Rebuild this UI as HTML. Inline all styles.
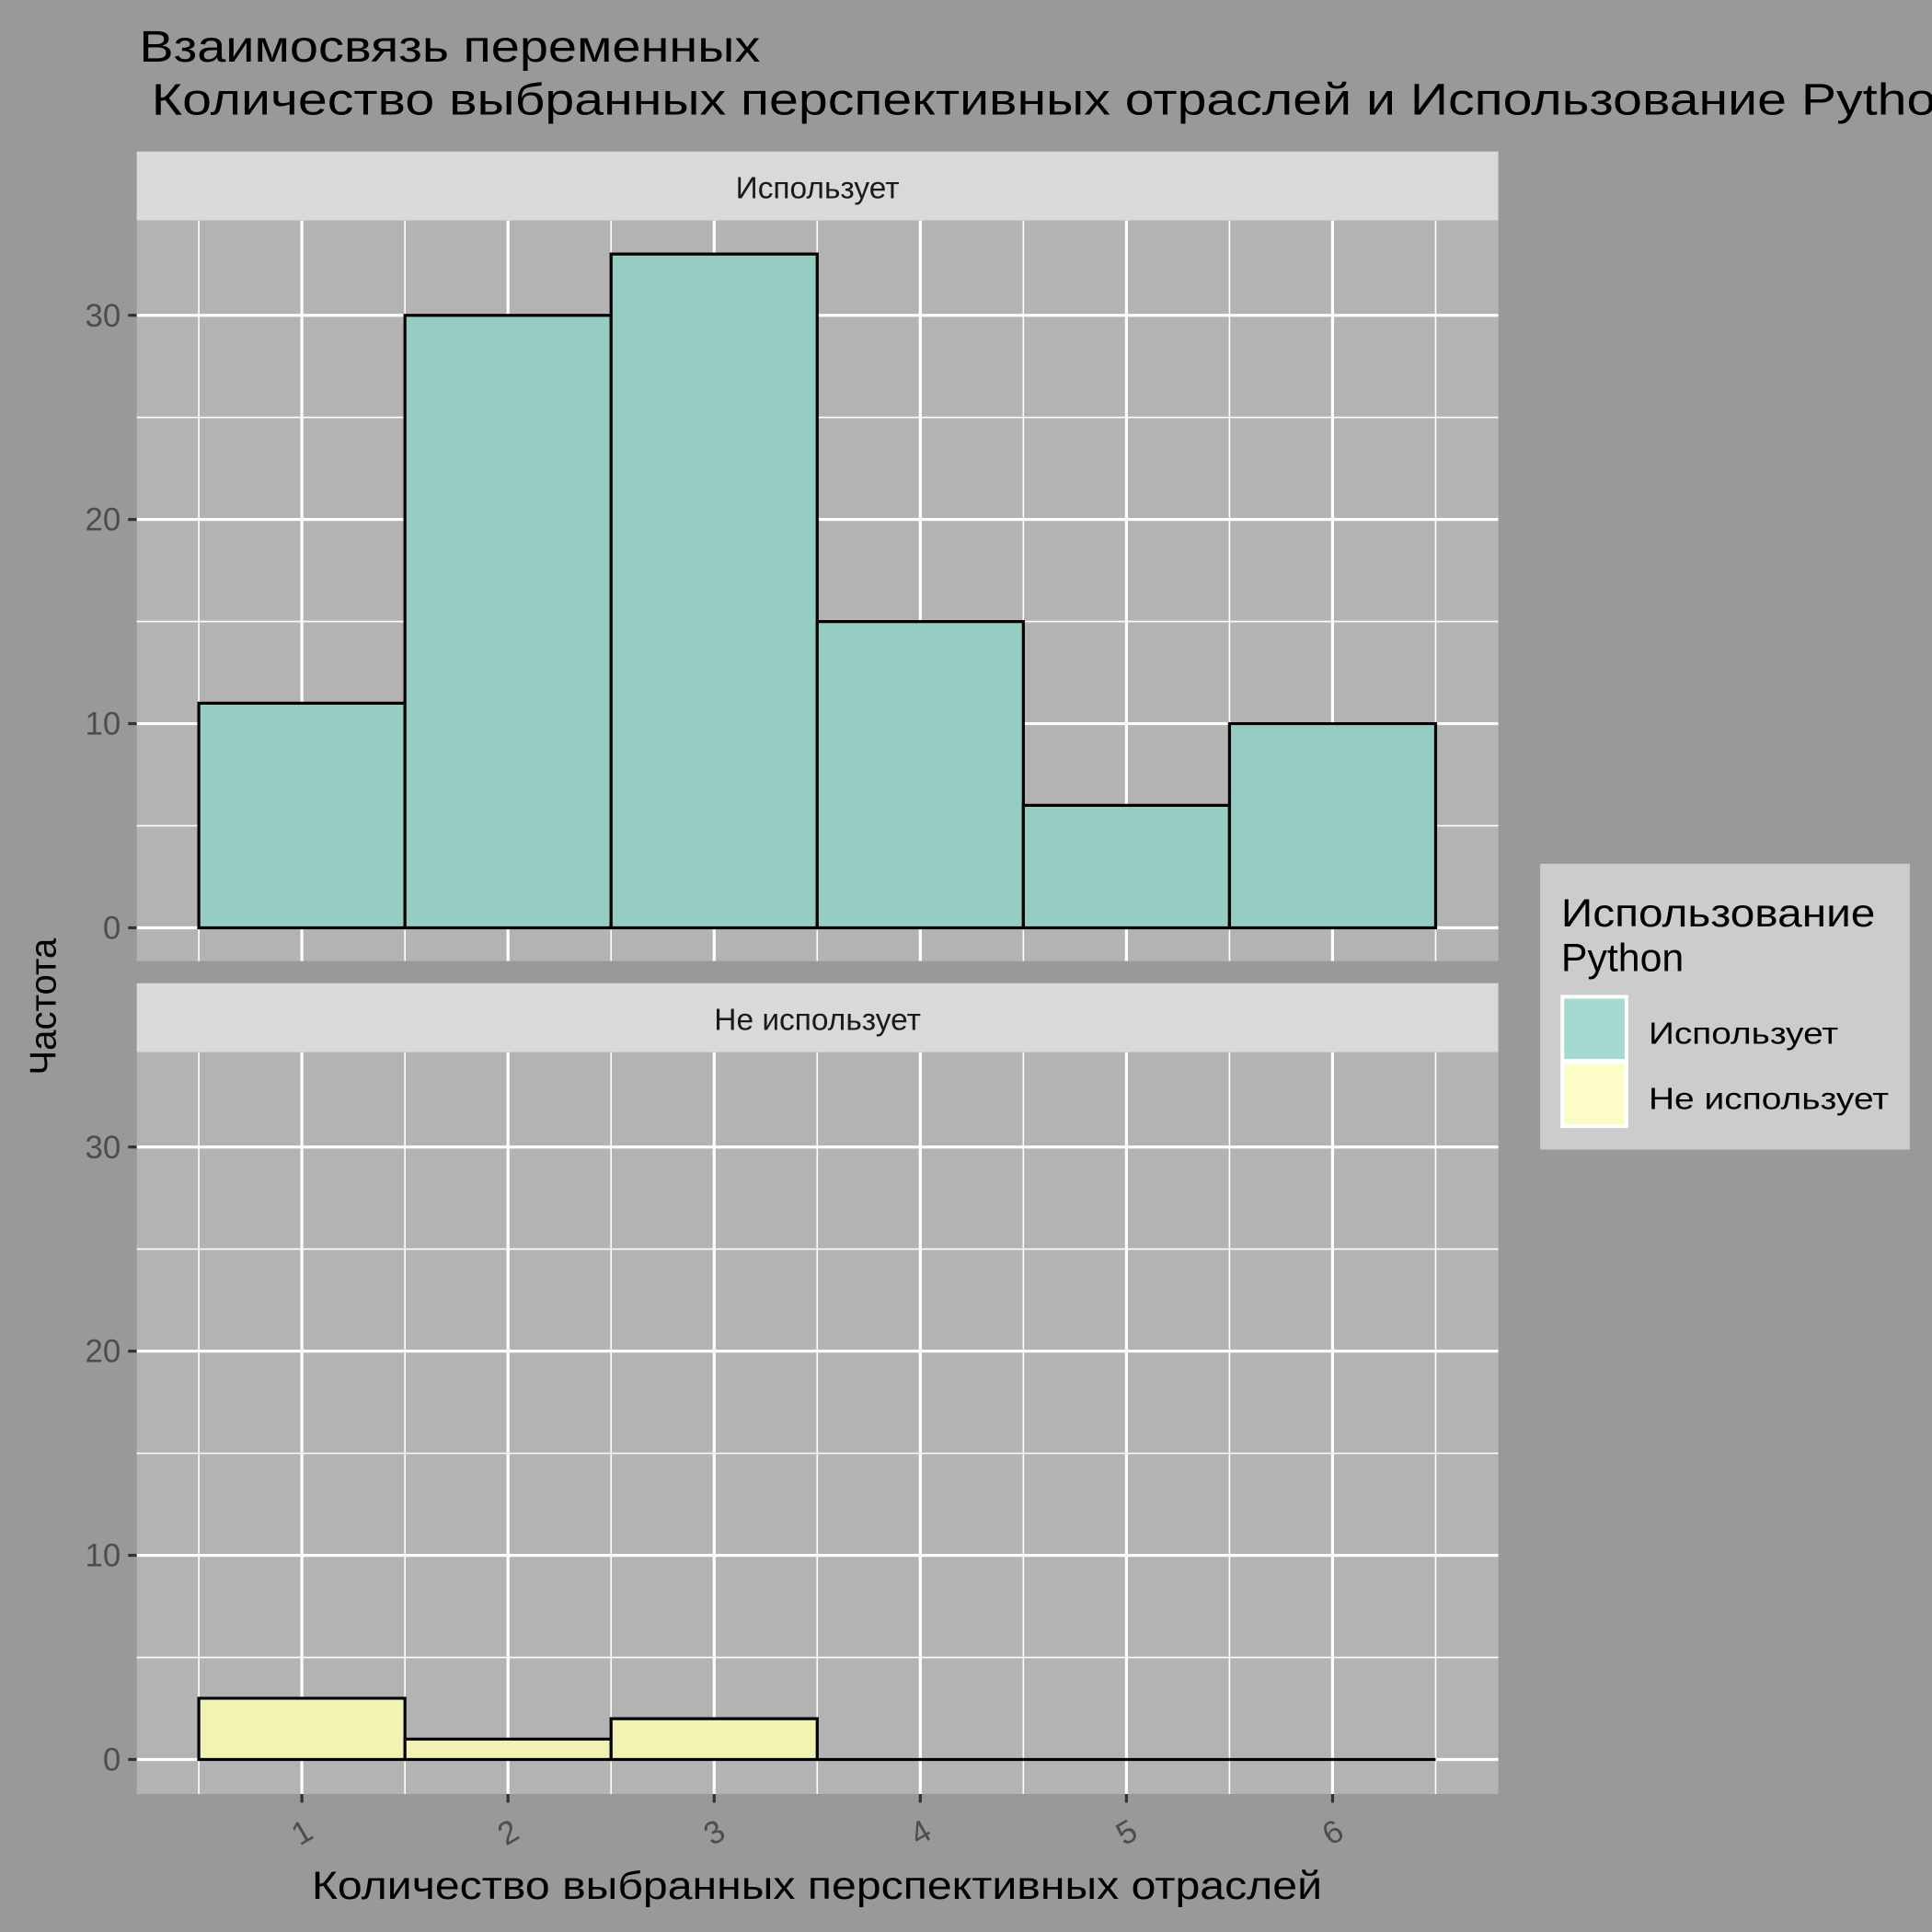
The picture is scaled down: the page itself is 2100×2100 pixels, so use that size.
<!DOCTYPE html>
<html><head><meta charset="utf-8"><style>
html,body{margin:0;padding:0;background:#999;}
svg{display:block;font-family:"Liberation Sans","DejaVu Sans",sans-serif;}
</style></head><body>
<svg id="chart" width="2100" height="2100" viewBox="0 0 1568 1568" xmlns="http://www.w3.org/2000/svg">
<rect x="0" y="0" width="1568" height="1568" fill="#999999"/>
<text x="113" y="50" font-size="36" fill="#000" textLength="504" lengthAdjust="spacingAndGlyphs">Взаимосвязь переменных</text>
<text x="123" y="93" font-size="36" fill="#000" textLength="1472" lengthAdjust="spacingAndGlyphs">Количество выбранных перспективных отраслей и Использование Python</text>
<g id="panels"></g>
<text transform="translate(45,817) rotate(-90)" text-anchor="middle" font-size="30" fill="#000">Частота</text>
<text x="663" y="1541" text-anchor="middle" font-size="32" fill="#000" textLength="820" lengthAdjust="spacingAndGlyphs">Количество выбранных перспективных отраслей</text>
<g>
<rect x="1250" y="701" width="300" height="232" fill="#cccccc"/>
<text x="1267" y="752" font-size="32" fill="#000" textLength="255" lengthAdjust="spacingAndGlyphs">Использование</text>
<text x="1267" y="788" font-size="32" fill="#000">Python</text>
<rect x="1268" y="809" width="52" height="52" fill="#a3d9cf" stroke="#fff" stroke-width="3"/>
<rect x="1268" y="862" width="52" height="52" fill="#fcfcc6" stroke="#fff" stroke-width="3"/>
<text x="1338" y="847" font-size="25" fill="#000" textLength="154" lengthAdjust="spacingAndGlyphs">Использует</text>
<text x="1338" y="900" font-size="25" fill="#000" textLength="195" lengthAdjust="spacingAndGlyphs">Не использует</text>
</g>
</svg>
<script>
const categories = [1, 2, 3, 4, 5, 6];
const usesValues = [11, 30, 33, 15, 6, 10];
const notUsesValues = [3, 1, 2, 0, 0, 0];
const yTicks = [0, 10, 20, 30];
const xTickLabels = ["1", "2", "3", "4", "5", "6"];
const panelNames = ["Использует", "Не использует"];

const NS = "http://www.w3.org/2000/svg";
const g = document.getElementById("panels");
const X0 = 111, X1 = 1216;
const xScale = v => 245 + (v - 1) * 167.3;
function mk(tag, attrs, parent) {
  const e = document.createElementNS(NS, tag);
  for (const k in attrs) e.setAttribute(k, attrs[k]);
  parent.appendChild(e);
  return e;
}
const panels = [
  {stripTop: 123, top: 179, bottom: 780, zero: 753, vals: usesValues, fill: "#96cdc3", key: "uses"},
  {stripTop: 798, top: 854, bottom: 1456, zero: 1428, vals: notUsesValues, fill: "#f2f2b3", key: "not-uses"}
];
panels.forEach((p, pi) => {
  const yScale = v => p.zero - v * 16.57;
  const strip = mk("rect", {x: X0, y: p.stripTop, width: X1 - X0, height: p.top - p.stripTop, fill: "#d9d9d9"}, g);
  
  
  const st = mk("text", {x: (X0 + X1) / 2, y: p.stripTop + 38, "text-anchor": "middle", "font-size": 25, fill: "#1a1a1a"}, g);
  st.textContent = panelNames[pi];
  
  
  const bg = mk("rect", {x: X0, y: p.top, width: X1 - X0, height: p.bottom - p.top, fill: "#b3b3b3"}, g);
  
  
  for (let v = 5; v <= 35; v += 10) {
    const y = yScale(v);
    if (y < p.top) continue;
    const l = mk("line", {x1: X0, x2: X1, y1: y, y2: y, stroke: "#fff", "stroke-width": 1.2}, g);
    
    
  }
  for (let i = 0; i <= categories.length; i++) {
    const x = xScale(categories[0] - 0.5 + i);
    const l = mk("line", {x1: x, x2: x, y1: p.top, y2: p.bottom, stroke: "#fff", "stroke-width": 1.2}, g);
    
    
  }
  yTicks.forEach(t => {
    const y = yScale(t);
    const l = mk("line", {x1: X0, x2: X1, y1: y, y2: y, stroke: "#fff", "stroke-width": 2.4}, g);
    
    
    const tk = mk("line", {x1: X0 - 7, x2: X0, y1: y, y2: y, stroke: "#333", "stroke-width": 2.4}, g);
    
    
    const tx = mk("text", {x: X0 - 13, y: y + 9, "text-anchor": "end", "font-size": 26, fill: "#4d4d4d"}, g);
    tx.textContent = String(t);
    
    
  });
  categories.forEach(c => {
    const x = xScale(c);
    const l = mk("line", {x1: x, x2: x, y1: p.top, y2: p.bottom, stroke: "#fff", "stroke-width": 2.4}, g);
    
    
  });
  categories.forEach((c, i) => {
    const v = p.vals[i];
    const x = xScale(c - 0.5), x2 = xScale(c + 0.5);
    const y = yScale(v);
    const d = "M" + x + "," + p.zero + "L" + x + "," + y + "L" + x2 + "," + y + "L" + x2 + "," + p.zero + "Z";
    const b = mk("path", {d: d, fill: p.fill, stroke: "#000", "stroke-width": 2.4, "stroke-linejoin": "miter"}, g);
    
    
  });
});
categories.forEach((c, i) => {
  const x = xScale(c);
  const tk = mk("line", {x1: x, x2: x, y1: 1456, y2: 1463, stroke: "#333", "stroke-width": 2.4}, g);
  
  
  const tx = mk("text", {x: x, y: 1496, "text-anchor": "middle", "font-size": 26, fill: "#4d4d4d", transform: "rotate(-30 " + x + " 1487)"}, g);
  tx.textContent = xTickLabels[i];
  
  
});
</script>
</body></html>
